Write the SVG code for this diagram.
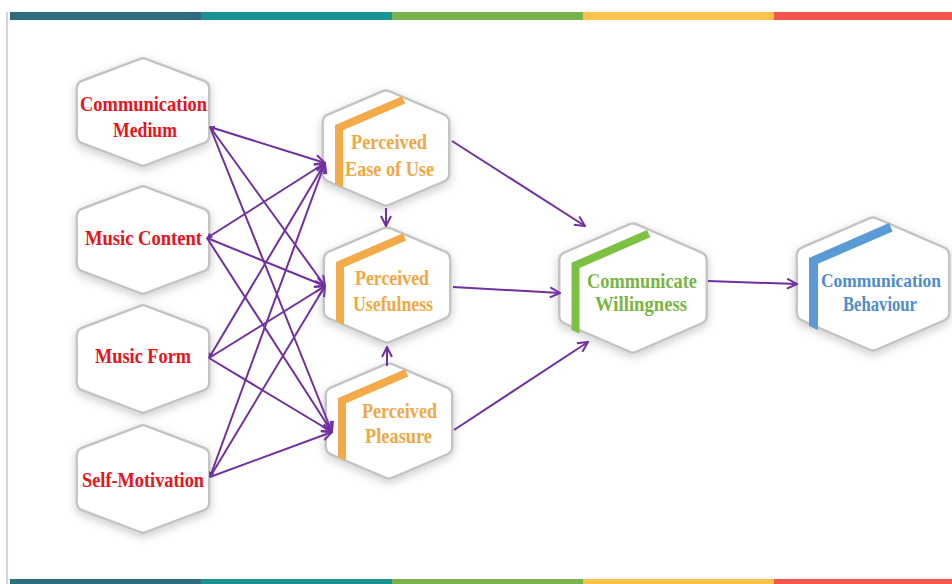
<svg xmlns="http://www.w3.org/2000/svg" xmlns:xlink="http://www.w3.org/1999/xlink" width="952" height="584" viewBox="0 0 952 584">
<style>
.hb{fill:#fff;stroke:#c4c4c4;stroke-width:19;stroke-linejoin:round;filter:url(#sh)}
.hw{fill:#fff;stroke:#fff;stroke-width:14;stroke-linejoin:round}
.t{font-family:"Liberation Serif","Times New Roman",serif;font-weight:bold;font-size:22px;text-anchor:middle}
.red{fill:#e8131b}
.org{fill:#f0a745}
.grn{fill:#79b544}
.blu{fill:#4f8cc9}
.bo{fill:#f2ab48}
.bg{fill:#7cc142}
.bb{fill:#5b9bd5}
.e{fill:none;stroke:#7030a0;stroke-width:2;marker-end:url(#ah)}
</style>
<defs>
<filter id="sh" x="-30%" y="-30%" width="160%" height="160%">
<feDropShadow dx="0" dy="3" stdDeviation="5" flood-color="#000" flood-opacity="0.2"/>
</filter>
<marker id="ah" viewBox="0 0 12 12" refX="11" refY="6" markerWidth="12" markerHeight="12" markerUnits="userSpaceOnUse" orient="auto">
<path d="M1,1 L11,6 L1,11" fill="none" stroke="#7030a0" stroke-width="2"/>
</marker>
<marker id="as" viewBox="0 0 6 6" refX="1" refY="3" markerWidth="6" markerHeight="6" markerUnits="userSpaceOnUse" orient="auto">
<path d="M6,0 L0,3 L6,6 Z" fill="#7030a0"/>
</marker>
<path id="hexL" d="M0,-45.4 L58,-23.5 L58,23.5 L0,45.4 L-58,23.5 L-58,-23.5 Z"/>
<path id="hexM" d="M0,-49.3 L55,-25.7 L55,25.7 L0,49.3 L-55,25.7 L-55,-25.7 Z"/>
<path id="hexW" d="M0,-56.3 L65.5,-27.8 L65.5,27.8 L0,56.3 L-65.5,27.8 L-65.5,-27.8 Z"/>
<path id="hexB" d="M0,-58.3 L68,-28.8 L68,28.8 L0,58.3 L-68,28.8 L-68,-28.8 Z"/>
<polygon id="bandM" points="16,-51.8 -51,-23.1 -51,36 -43,39.4 -43,-17.8 19.2,-44.4"/>
<polygon id="bandW" points="14,-58 -61.5,-25.2 -61.5,42 -53.5,45.5 -53.5,-19.9 17.2,-50.7"/>
<polygon id="bandB" points="16,-60.9 -64,-26.1 -64,42 -55,46 -55,-20.2 19.6,-52.6"/>
</defs>
<rect width="952" height="584" fill="#fff"/>
<g id="frame">
<rect x="6" y="12" width="2" height="572" fill="#d4d4de"/>
<rect x="10" y="12" width="192" height="8" fill="#2d6e7e"/>
<rect x="201" y="12" width="192" height="8" fill="#1c9191"/>
<rect x="392" y="12" width="192" height="8" fill="#79b34c"/>
<rect x="583" y="12" width="192" height="8" fill="#fcc14a"/>
<rect x="774" y="12" width="178" height="8" fill="#f5544a"/>
<rect x="10" y="579" width="192" height="5" fill="#2d6e7e"/>
<rect x="201" y="579" width="192" height="5" fill="#1c9191"/>
<rect x="392" y="579" width="192" height="5" fill="#79b34c"/>
<rect x="583" y="579" width="192" height="5" fill="#fcc14a"/>
<rect x="774" y="579" width="178" height="5" fill="#f5544a"/>
</g>
<g id="n-cm">
<use xlink:href="#hexL" x="143" y="112" class="hb"/>
<use xlink:href="#hexL" x="143" y="112" class="hw"/>
<text class="t red" x="143.5" y="111" textLength="127" lengthAdjust="spacingAndGlyphs">Communication</text>
<text class="t red" x="145" y="137" textLength="64" lengthAdjust="spacingAndGlyphs">Medium</text>
</g>
<g id="n-mc">
<use xlink:href="#hexL" x="143" y="240" class="hb"/>
<use xlink:href="#hexL" x="143" y="240" class="hw"/>
<text class="t red" x="143.5" y="245" textLength="117" lengthAdjust="spacingAndGlyphs">Music Content</text>
</g>
<g id="n-mf">
<use xlink:href="#hexL" x="143" y="359" class="hb"/>
<use xlink:href="#hexL" x="143" y="359" class="hw"/>
<text class="t red" x="143" y="363" textLength="96" lengthAdjust="spacingAndGlyphs">Music Form</text>
</g>
<g id="n-sm">
<use xlink:href="#hexL" x="143" y="479" class="hb"/>
<use xlink:href="#hexL" x="143" y="479" class="hw"/>
<text class="t red" x="143" y="487" textLength="122" lengthAdjust="spacingAndGlyphs">Self-Motivation</text>
</g>
<g id="n-peou">
<use xlink:href="#hexM" x="386" y="148" class="hb"/>
<use xlink:href="#hexM" x="386" y="148" class="hw"/>
<use xlink:href="#bandM" x="386" y="148" class="bo"/>
<text class="t org" x="389" y="149" textLength="76" lengthAdjust="spacingAndGlyphs">Perceived</text>
<text class="t org" x="389.5" y="176" textLength="89" lengthAdjust="spacingAndGlyphs">Ease of Use</text>
</g>
<g id="n-pu">
<use xlink:href="#hexM" x="387" y="285" class="hb"/>
<use xlink:href="#hexM" x="387" y="285" class="hw"/>
<use xlink:href="#bandM" x="387" y="285" class="bo"/>
<text class="t org" x="392" y="285" textLength="74" lengthAdjust="spacingAndGlyphs">Perceived</text>
<text class="t org" x="393" y="311" textLength="80" lengthAdjust="spacingAndGlyphs">Usefulness</text>
</g>
<g id="n-pp">
<use xlink:href="#hexM" x="389" y="421" class="hb"/>
<use xlink:href="#hexM" x="389" y="421" class="hw"/>
<use xlink:href="#bandM" x="389" y="421" class="bo"/>
<text class="t org" x="399.5" y="418" textLength="75" lengthAdjust="spacingAndGlyphs">Perceived</text>
<text class="t org" x="398.5" y="443" textLength="67" lengthAdjust="spacingAndGlyphs">Pleasure</text>
</g>
<g id="n-cw">
<use xlink:href="#hexW" x="633" y="288" class="hb"/>
<use xlink:href="#hexW" x="633" y="288" class="hw"/>
<use xlink:href="#bandW" x="633" y="288" class="bg"/>
<text class="t grn" x="642" y="288" textLength="110" lengthAdjust="spacingAndGlyphs">Communicate</text>
<text class="t grn" x="641" y="311" textLength="92" lengthAdjust="spacingAndGlyphs">Willingness</text>
</g>
<g id="n-cb">
<use xlink:href="#hexB" x="873" y="284" class="hb"/>
<use xlink:href="#hexB" x="873" y="284" class="hw"/>
<use xlink:href="#bandB" x="873" y="284" class="bb"/>
<text class="t blu" x="881" y="287" style="font-size:19.5px" textLength="120" lengthAdjust="spacingAndGlyphs">Communication</text>
<text class="t blu" x="880" y="311" textLength="74" lengthAdjust="spacingAndGlyphs">Behaviour</text>
</g>
<g id="connectors">
<line class="e" x1="210" y1="127" x2="325" y2="163" style="marker-start:url(#as)"/>
<line class="e" x1="210" y1="127" x2="325" y2="286"/>
<line class="e" x1="210" y1="127" x2="332" y2="432"/>
<line class="e" x1="207" y1="238" x2="325" y2="163" style="marker-start:url(#as)"/>
<line class="e" x1="207" y1="238" x2="325" y2="286"/>
<line class="e" x1="207" y1="238" x2="332" y2="432"/>
<line class="e" x1="209" y1="358" x2="325" y2="163" style="marker-start:url(#as)"/>
<line class="e" x1="209" y1="358" x2="325" y2="286"/>
<line class="e" x1="209" y1="358" x2="332" y2="432"/>
<line class="e" x1="210" y1="477" x2="325" y2="163" style="marker-start:url(#as)"/>
<line class="e" x1="210" y1="477" x2="325" y2="286"/>
<line class="e" x1="210" y1="477" x2="332" y2="432"/>
<line class="e" x1="386" y1="208" x2="386" y2="226"/>
<line class="e" x1="387" y1="366" x2="387" y2="347"/>
<line class="e" x1="452" y1="141" x2="585" y2="226"/>
<line class="e" x1="453" y1="287" x2="560" y2="293"/>
<line class="e" x1="454" y1="430" x2="588" y2="342"/>
<line class="e" x1="708" y1="281" x2="797" y2="284"/>
</g>
</svg>
